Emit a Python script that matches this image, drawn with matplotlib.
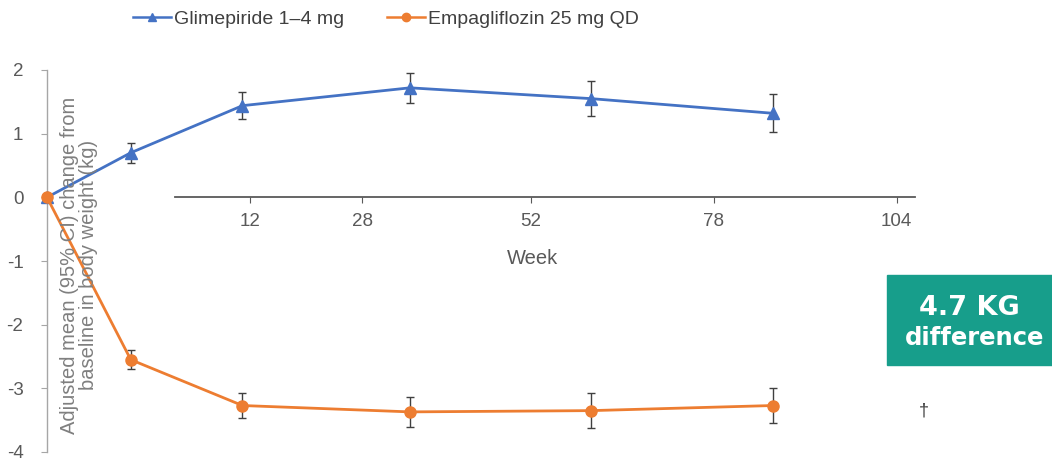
import matplotlib
matplotlib.use("Agg")
import matplotlib.pyplot as plt
from matplotlib.lines import Line2D
from matplotlib.patches import Rectangle

plt.rcParams['font.family'] = ['Liberation Sans', 'DejaVu Sans']

# Visit weeks and adjusted mean change in body weight (kg) with 95% CI half-widths
weeks = [0, 12, 28, 52, 78, 104]
glim_mean = [0.0, 0.70, 1.44, 1.72, 1.55, 1.32]
glim_ci = [0.0, 0.16, 0.21, 0.24, 0.28, 0.30]
empa_mean = [0.0, -2.55, -3.27, -3.37, -3.35, -3.27]
empa_ci = [0.0, 0.15, 0.19, 0.23, 0.27, 0.28]

week_ticks = [12, 28, 52, 78, 104]
y_ticks = [2, 1, 0, -1, -2, -3, -4]

BLUE = '#4472C4'
ORANGE = '#ED7D31'
GREY = '#595959'
TEAL = '#179E8B'

W, H = 1052, 462
fig = plt.figure(figsize=(W / 100, H / 100), dpi=100)

# main data axes: left spine at x=47 px, y range 2 -> -4 spanning 70..452 px
left_px, right_px = 47, 915
top_px, bot_px = 70, 452
px_per_week = 6.98
ax = fig.add_axes([left_px / W, 1 - bot_px / H, (right_px - left_px) / W, (bot_px - top_px) / H])
ax.set_xlim(0, (right_px - left_px) / px_per_week)
ax.set_ylim(-4, 2)
for s in ('top', 'right', 'bottom'):
    ax.spines[s].set_visible(False)
ax.spines['left'].set_color('#A6A6A6')
ax.spines['left'].set_linewidth(1.0)
ax.set_yticks(y_ticks)
ax.set_yticklabels([str(v) for v in y_ticks])
ax.tick_params(axis='y', length=4, color='#A6A6A6', labelsize=13.5, labelcolor=GREY, pad=13)
ax.set_xticks([])

ax.errorbar(weeks, glim_mean, yerr=glim_ci, color=BLUE, lw=2, marker='^', ms=8,
            ecolor='#404040', elinewidth=1, capsize=3, capthick=1, zorder=3, clip_on=False)
ax.errorbar(weeks, empa_mean, yerr=empa_ci, color=ORANGE, lw=2, marker='o', ms=8,
            ecolor='#404040', elinewidth=1, capsize=3, capthick=1, zorder=4, clip_on=False)

# week axis drawn as a separate overlay
ax2 = fig.add_axes(ax.get_position(), frameon=True)
ax2.patch.set_visible(False)
wk_scale = 7.03
zero_px = 165.6
ax2.set_xlim(-(zero_px - left_px) / wk_scale, (right_px - zero_px) / wk_scale)
ax2.set_ylim(-4, 2)
for s in ('top', 'right', 'left'):
    ax2.spines[s].set_visible(False)
ax2.spines['bottom'].set_position(('data', 0))
ax2.spines['bottom'].set_bounds((175 - zero_px) / wk_scale, (right_px - zero_px) / wk_scale)
ax2.spines['bottom'].set_color('#595959')
ax2.spines['bottom'].set_linewidth(1.3)
ax2.set_yticks([])
ax2.set_xticks(week_ticks)
ax2.set_xticklabels([str(v) for v in week_ticks])
ax2.tick_params(axis='x', length=4, color='#595959', labelsize=13.5, labelcolor=GREY, pad=7)
ax2.set_xlabel('Week', fontsize=14.5, color=GREY)
ax2.xaxis.set_label_coords(((533 - left_px) / (right_px - left_px)), (1 - (249 - top_px) / (bot_px - top_px)))

# y axis title
fig.text(79 / W, 1 - 265 / H, 'Adjusted mean (95% CI) change from\nbaseline in body weight (kg)',
         rotation=90, ha='center', va='center', fontsize=14.5, color='#7F7F7F', linespacing=1.05)

# legend
handles = [Line2D([], [], color=BLUE, lw=1.8, marker='^', ms=6),
           Line2D([], [], color=ORANGE, lw=1.8, marker='o', ms=6)]
fig.legend(handles, ['Glimepiride 1\u20134 mg', 'Empagliflozin 25 mg QD'], ncol=2,
           loc='center left', bbox_to_anchor=(133 / W, 1 - 19 / H), frameon=False,
           fontsize=14, handlelength=1.95, handletextpad=0.15, columnspacing=2.2,
           labelcolor='#404040', borderaxespad=0, borderpad=0)

# difference callout
fig.patches.append(Rectangle((887 / W, 1 - 365 / H), (W - 887) / W, 90 / H,
                             transform=fig.transFigure, color=TEAL, zorder=5))
fig.text(969 / W, 1 - 315 / H, '4.7 KG', ha='center', va='baseline', fontsize=19.5,
         fontweight='bold', color='white', family=['DejaVu Sans'], zorder=6)
fig.text(975 / W, 1 - 345 / H, 'difference', ha='center', va='baseline', fontsize=17.5,
         fontweight='bold', color='white', family=['DejaVu Sans'], zorder=6)
fig.text(924 / W, 1 - 411 / H, '\u2020', ha='center', va='center', fontsize=13, color='#404040')

fig.savefig('out.png', dpi=100, facecolor='white')
